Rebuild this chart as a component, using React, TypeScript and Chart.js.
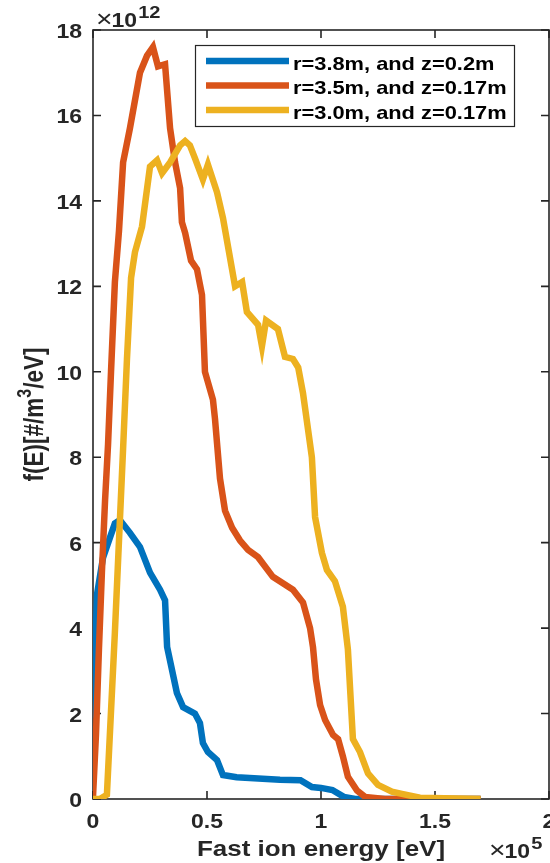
import React, { useEffect, useRef } from "react";
import { Chart, registerables } from "chart.js";

Chart.register(...registerables);

const FONT = "'Liberation Sans', Arial, sans-serif";
const AXIS_COLOR = "#262626";
const SX = 1.18; // horizontal stretch of the reference's lettering

const xTickValues = [0, 0.5, 1, 1.5, 2];
const yTickValues = [0, 2, 4, 6, 8, 10, 12, 14, 16, 18];
const xAxisTitle = "Fast ion energy [eV]";
const yTitleMain = "f(E)[#/m";
const yTitleSup = "3";
const yTitleEnd = "/eV]";
const xExponent = "5";
const yExponent = "12";

const seriesLabels = [
  "r=3.8m, and z=0.2m",
  "r=3.5m, and z=0.17m",
  "r=3.0m, and z=0.17m",
];
const seriesColors = ["#0072BD", "#D95319", "#EDB120"];

// r=3.8m, z=0.2m  (energy in 1e5 eV, f in 1e12)
const energyA = [0, 0.018, 0.044, 0.075, 0.096, 0.118, 0.162, 0.206, 0.25, 0.294, 0.316, 0.325, 0.368, 0.395, 0.447, 0.469, 0.482, 0.504, 0.544, 0.57, 0.63, 0.82, 0.91, 0.96, 1.0, 1.05, 1.1, 1.15, 1.7];
const valuesA = [1.9, 4.8, 5.65, 6.13, 6.45, 6.53, 6.23, 5.9, 5.3, 4.9, 4.65, 3.56, 2.48, 2.15, 2.0, 1.78, 1.31, 1.1, 0.91, 0.56, 0.51, 0.45, 0.44, 0.28, 0.26, 0.21, 0.05, 0, 0];

// r=3.5m, z=0.17m
const energyB = [0, 0.013, 0.026, 0.039, 0.053, 0.066, 0.079, 0.096, 0.114, 0.132, 0.162, 0.206, 0.237, 0.263, 0.285, 0.316, 0.338, 0.36, 0.382, 0.39, 0.404, 0.43, 0.456, 0.478, 0.491, 0.526, 0.535, 0.557, 0.579, 0.61, 0.645, 0.68, 0.724, 0.789, 0.877, 0.921, 0.952, 0.965, 0.978, 0.996, 1.018, 1.053, 1.075, 1.096, 1.118, 1.158, 1.193, 1.28, 1.7];
const valuesB = [0.05, 1.5, 3.5, 5.3, 7.0, 8.3, 10.0, 12.1, 13.3, 14.9, 15.7, 17.0, 17.4, 17.6, 17.15, 17.2, 15.7, 14.9, 14.3, 13.5, 13.25, 12.6, 12.4, 11.8, 10.0, 9.35, 8.9, 7.5, 6.75, 6.35, 6.05, 5.83, 5.66, 5.2, 4.9, 4.6, 4.0, 3.55, 2.8, 2.2, 1.85, 1.5, 1.4, 1.0, 0.52, 0.2, 0.05, 0, 0];

// r=3.0m, z=0.17m
const energyC = [0, 0.03, 0.061, 0.096, 0.132, 0.149, 0.167, 0.184, 0.215, 0.25, 0.281, 0.303, 0.338, 0.382, 0.404, 0.425, 0.447, 0.482, 0.504, 0.544, 0.57, 0.623, 0.654, 0.675, 0.724, 0.741, 0.759, 0.811, 0.842, 0.877, 0.9, 0.921, 0.96, 0.974, 1.004, 1.026, 1.061, 1.096, 1.118, 1.129, 1.14, 1.171, 1.206, 1.25, 1.311, 1.355, 1.434, 1.7];
const valuesC = [0, 0, 0.1, 3.9, 8.2, 10.3, 12.2, 12.8, 13.4, 14.8, 14.95, 14.65, 14.9, 15.3, 15.4, 15.3, 15.0, 14.5, 14.85, 14.2, 13.6, 12.0, 12.1, 11.4, 11.1, 10.6, 11.2, 11.0, 10.35, 10.3, 10.1, 9.5, 8.0, 6.6, 5.76, 5.36, 5.1, 4.5, 3.5, 2.45, 1.4, 1.1, 0.6, 0.33, 0.17, 0.12, 0.03, 0];

const seriesEnergy = [energyA, energyB, energyC];
const seriesValues = [valuesA, valuesB, valuesC];

const LINE_WIDTH = 6.5;

function stretchedText(ctx: CanvasRenderingContext2D, text: string, x: number, y: number, align: CanvasTextAlign, font: string) {
  ctx.save();
  ctx.translate(x, y);
  ctx.scale(SX, 1);
  ctx.font = font;
  ctx.textAlign = align;
  ctx.textBaseline = "alphabetic";
  ctx.fillText(text, 0, 0);
  ctx.restore();
}

function textWidth(ctx: CanvasRenderingContext2D, text: string, font: string) {
  ctx.save();
  ctx.font = font;
  const w = ctx.measureText(text).width * SX;
  ctx.restore();
  return w;
}

// draws "×10^exp" starting at x (left), baseline y
function exponentLabel(ctx: CanvasRenderingContext2D, exp: string, x: number, y: number) {
  const timesFont = `24px ${FONT}`;
  const baseFont = `bold 19.5px ${FONT}`;
  const expFont = `bold 17px ${FONT}`;
  const wt = textWidth(ctx, "\u00d7", timesFont);
  stretchedText(ctx, "\u00d7", x - 1, y, "left", timesFont);
  const w10 = textWidth(ctx, "10", baseFont);
  stretchedText(ctx, "10", x + wt - 2, y, "left", baseFont);
  stretchedText(ctx, exp, x + wt - 2 + w10 + 1, y - 9, "left", expFont);
}

const boxPlugin = {
  id: "matlabBox",
  beforeDatasetsDraw(chart: any) {
    const { ctx, chartArea: a, scales } = chart;
    ctx.save();
    ctx.strokeStyle = AXIS_COLOR;
    ctx.lineWidth = 1.6;
    ctx.strokeRect(a.left, a.top, a.right - a.left, a.bottom - a.top);
    const tl = 8;
    ctx.beginPath();
    for (const t of scales.x.ticks) {
      const px = scales.x.getPixelForValue(t.value);
      ctx.moveTo(px, a.bottom);
      ctx.lineTo(px, a.bottom - tl);
      ctx.moveTo(px, a.top);
      ctx.lineTo(px, a.top + tl);
    }
    for (const t of scales.y.ticks) {
      const py = scales.y.getPixelForValue(t.value);
      ctx.moveTo(a.left, py);
      ctx.lineTo(a.left + tl, py);
      ctx.moveTo(a.right, py);
      ctx.lineTo(a.right - tl, py);
    }
    ctx.stroke();

    // tick labels
    ctx.fillStyle = AXIS_COLOR;
    const tickFont = `bold 19.5px ${FONT}`;
    for (const t of scales.x.ticks) {
      const px = scales.x.getPixelForValue(t.value);
      stretchedText(ctx, String(t.value), px, a.bottom + 29, "center", tickFont);
    }
    for (const t of scales.y.ticks) {
      const py = scales.y.getPixelForValue(t.value);
      stretchedText(ctx, String(t.value), a.left - 11, py + 8, "right", tickFont);
    }
    ctx.restore();
  },
};

const annotationPlugin = {
  id: "matlabText",
  afterDraw(chart: any) {
    const { ctx, chartArea: a } = chart;
    ctx.save();
    ctx.fillStyle = AXIS_COLOR;
    // x title
    stretchedText(ctx, xAxisTitle, (a.left + a.right) / 2, a.bottom + 57, "center", `bold 22px ${FONT}`);

    // y title with superscript (rotated)
    ctx.save();
    ctx.translate(43, (a.top + a.bottom) / 2);
    ctx.rotate(-Math.PI / 2);
    ctx.scale(1, 1.25);
    const mainFont = `bold 22.5px ${FONT}`;
    const supFont = `bold 16px ${FONT}`;
    ctx.font = mainFont;
    const w1 = ctx.measureText(yTitleMain).width;
    const w2 = ctx.measureText(yTitleEnd).width;
    ctx.font = supFont;
    const w3 = ctx.measureText(yTitleSup).width;
    let x = -(w1 + w2 + w3) / 2;
    ctx.textAlign = "left";
    ctx.textBaseline = "alphabetic";
    ctx.font = mainFont;
    ctx.fillText(yTitleMain, x, 0);
    x += w1;
    ctx.font = supFont;
    ctx.fillText(yTitleSup, x, -10);
    x += w3;
    ctx.font = mainFont;
    ctx.fillText(yTitleEnd, x, 0);
    ctx.restore();

    // exponent labels
    exponentLabel(ctx, yExponent, a.left + 4, a.top - 3);
    exponentLabel(ctx, xExponent, a.right - 59, a.bottom + 59);

    // legend
    const lx = 195, ly = 45, lw = 319, lh = 81;
    ctx.fillStyle = "#ffffff";
    ctx.fillRect(lx, ly, lw, lh);
    ctx.strokeStyle = AXIS_COLOR;
    ctx.lineWidth = 1.2;
    ctx.strokeRect(lx + 0.5, ly + 0.5, lw, lh);
    const legendFont = `bold 18.5px ${FONT}`;
    chart.data.datasets.forEach((ds: any, i: number) => {
      const ry = ly + 16 + i * 24.5;
      ctx.strokeStyle = ds.borderColor;
      ctx.lineWidth = LINE_WIDTH;
      ctx.lineCap = "butt";
      ctx.beginPath();
      ctx.moveTo(lx + 11, ry);
      ctx.lineTo(lx + 94, ry);
      ctx.stroke();
      ctx.fillStyle = "#000000";
      stretchedText(ctx, ds.label, lx + 98, ry + 8.5, "left", legendFont);
    });
    ctx.restore();
  },
};

export default function App() {
  const canvasRef = useRef<HTMLCanvasElement | null>(null);

  useEffect(() => {
    const canvas = canvasRef.current;
    if (!canvas) return;
    const datasets = seriesLabels.map((label, i) => ({
      label,
      data: seriesEnergy[i].map((e, j) => ({ x: e, y: seriesValues[i][j] })),
      borderColor: seriesColors[i],
      backgroundColor: seriesColors[i],
      borderWidth: LINE_WIDTH,
      borderJoinStyle: "miter" as const,
      borderCapStyle: "butt" as const,
      pointRadius: 0,
      tension: 0,
      fill: false,
      order: seriesLabels.length - i,
    }));
    const chart = new Chart(canvas, {
      type: "line",
      data: { datasets },
      options: {
        animation: false,
        responsive: false,
        devicePixelRatio: 1,
        layout: { autoPadding: false, padding: { top: 30, right: 1, left: 0, bottom: 0 } },
        plugins: { legend: { display: false }, tooltip: { enabled: false }, title: { display: false } },
        scales: {
          x: {
            type: "linear",
            min: 0,
            max: 2,
            afterBuildTicks: (scale: any) => {
              scale.ticks = xTickValues.map((v) => ({ value: v }));
            },
            afterFit: (scale: any) => {
              scale.height = 64;
              scale.paddingLeft = 0;
              scale.paddingRight = 0;
              scale.paddingTop = 0;
              scale.paddingBottom = 0;
            },
            grid: { display: false, drawTicks: false },
            border: { display: false },
            ticks: { display: false },
          },
          y: {
            type: "linear",
            min: 0,
            max: 18,
            afterBuildTicks: (scale: any) => {
              scale.ticks = yTickValues.map((v) => ({ value: v }));
            },
            afterFit: (scale: any) => {
              scale.width = 93;
              scale.paddingLeft = 0;
              scale.paddingRight = 0;
              scale.paddingTop = 0;
              scale.paddingBottom = 0;
            },
            grid: { display: false, drawTicks: false },
            border: { display: false },
            ticks: { display: false },
          },
        },
      },
      plugins: [boxPlugin, annotationPlugin],
    } as any);
    return () => chart.destroy();
  }, []);

  return (
    <div style={{ position: "absolute", left: 0, top: 0, width: 550, height: 863, background: "#fff" }}>
      <canvas ref={canvasRef} width={550} height={863} style={{ display: "block", width: 550, height: 863 }} />
    </div>
  );
}
